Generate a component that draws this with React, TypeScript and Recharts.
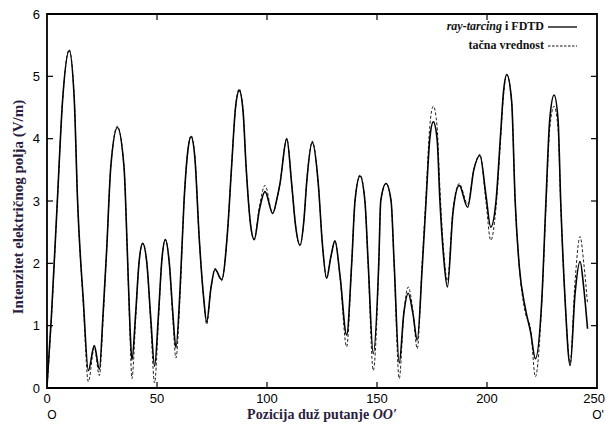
import React from 'react';
import { LineChart, Line, XAxis, YAxis, ReferenceArea, Legend } from 'recharts';

// positions along path OO'
const positions = [
  0, 2, 4.7, 7.1, 10.1, 12.4, 13.9, 16.5, 18.8, 21.5, 23.8, 25.5, 27.1, 29, 32, 35, 36.5, 37.7, 38.6,
  40.3, 41.8, 43.5, 45.4, 47.2, 48.9, 50.7, 52.2, 53.8, 55.6, 57.2, 58.6, 60.5, 62.3, 64, 65.5, 67.2,
  69.2, 71.2, 72.6, 74.5, 76.4, 79.4, 82, 83.9, 85.7, 87.4, 89.1, 90.5, 92.6, 94.2, 96.5, 99.1, 102.6,
  104.6, 105.9, 109, 111.2, 113, 115, 116.8, 118, 120.6, 123.3, 125.2, 127.1, 129, 130.9, 133.2, 136.2,
  138.5, 140, 142.3, 144.5, 146, 148.3, 150.8, 151.7, 154.1, 156.4, 157.8, 160.1, 162.2, 164.2, 166.3,
  168.3, 170.5, 172.3, 174, 175.6, 177.3, 178.6, 180.3, 182, 184.5, 187.4, 191.2, 194, 196.8, 199.5,
  201.7, 204.1, 206.2, 207.5, 209, 211.2, 212.8, 214.7, 217.3, 219.8, 222, 224.9, 226.8, 228.5, 230.5,
  232.3, 233.5, 235.5, 237.8, 240, 242.3, 244, 245.7,
];

// ray-tracing i FDTD (solid)
const rayTracing = [
  0.02, 1.15, 3.0, 4.62, 5.41, 4.62, 3.0, 1.41, 0.28, 0.68, 0.3, 1.2, 2.2, 3.55, 4.18, 3.55, 2.2, 1.0, 0.45,
  1.2, 2.0, 2.32, 2.0, 1.1, 0.35, 1.2, 2.05, 2.38, 2.0, 1.2, 0.65, 1.6, 3.0, 3.8, 4.03, 3.7,
  2.4, 1.45, 1.06, 1.6, 1.9, 1.74, 2.48, 3.55, 4.5, 4.77, 4.45, 3.55, 2.6, 2.38, 2.85, 3.15, 2.8,
  3.05, 3.28, 4.0, 3.28, 2.6, 2.29, 2.7, 3.28, 3.94, 3.28, 2.3, 1.76, 2.1, 2.36, 1.8, 0.85,
  2.0, 3.0, 3.4, 3.0, 2.0, 0.55, 2.0, 3.0, 3.28, 3.0, 2.0, 0.4, 1.2, 1.52, 1.2,
  0.77, 1.9, 3.0, 4.0, 4.27, 4.0, 3.0, 2.1, 1.62, 2.8, 3.25, 2.9, 3.5, 3.73, 3.1,
  2.58, 3.0, 4.08, 4.75, 5.03, 4.6, 3.0, 1.94, 1.3, 0.9, 0.47, 1.41, 3.0, 4.3, 4.7,
  4.3, 3.0, 1.41, 0.36, 1.5, 2.03, 1.6, 0.95,
];

// tačna vrednost (dashed)
const exactValue = [
  0.0, 1.1, 3.0, 4.62, 5.43, 4.65, 3.0, 1.35, 0.1, 0.65, 0.2, 1.1, 2.2, 3.55, 4.2, 3.55, 2.2, 0.9, 0.15,
  1.1, 2.0, 2.32, 2.0, 1.0, 0.08, 1.1, 2.05, 2.38, 2.0, 1.1, 0.48, 1.5, 3.0, 3.8, 4.05, 3.72,
  2.4, 1.45, 1.02, 1.6, 1.92, 1.72, 2.48, 3.55, 4.5, 4.8, 4.45, 3.55, 2.6, 2.38, 2.9, 3.25, 2.8,
  3.05, 3.28, 4.0, 3.28, 2.6, 2.29, 2.7, 3.28, 3.96, 3.28, 2.3, 1.76, 2.1, 2.36, 1.78, 0.66,
  2.0, 3.0, 3.42, 3.0, 1.95, 0.28, 1.95, 3.0, 3.28, 3.0, 1.95, 0.15, 1.2, 1.62, 1.25,
  0.63, 2.0, 3.1, 4.2, 4.52, 4.2, 3.2, 2.2, 1.72, 2.85, 3.28, 2.95, 3.5, 3.75, 3.0,
  2.37, 2.9, 4.0, 4.7, 5.02, 4.6, 3.0, 1.94, 1.22, 0.95, 0.18, 1.35, 2.9, 4.15, 4.52,
  4.15, 2.95, 1.41, 0.4, 1.7, 2.43, 2.0, 1.35,
];

const xTicks = [0, 50, 100, 150, 200, 250];
const yTicks = [0, 1, 2, 3, 4, 5, 6];
const legendItems = [
  { italic: 'ray-tarcing', rest: ' i FDTD', dash: '' },
  { italic: '', rest: 'tačna vrednost', dash: '2.5 1.5' },
];

const data = positions.map((x, i) => ({ x, ray: rayTracing[i], exact: exactValue[i] }));

const W = 606;
const H = 426;
const X_AXIS_H = 30;
const Y_AXIS_W = 40;
const M = { top: 14, right: 9, bottom: 38 - X_AXIS_H, left: 47 - Y_AXIS_W };
const LEFT = M.left + Y_AXIS_W;
const RIGHT = W - M.right;
const TOP = M.top;
const BOTTOM = H - M.bottom - X_AXIS_H;
const TICK = 6;
const TITLE_COLOR = '#2a1d40';

const XTick = (props: any) => {
  const { x, y, payload } = props;
  const last = payload.value === xTicks[xTicks.length - 1];
  const inner = payload.value !== xTicks[0] && !last;
  return (
    <g>
      {inner && <line x1={x} x2={x} y1={BOTTOM} y2={BOTTOM - TICK} stroke="#000" strokeWidth={1.2} />}
      {inner && <line x1={x} x2={x} y1={TOP} y2={TOP + TICK} stroke="#000" strokeWidth={1.2} />}
      <text x={last ? x + 8 : x} y={y} dy="0.71em" textAnchor={last ? 'end' : 'middle'} fontFamily="Liberation Sans, Arial, sans-serif" fontSize={13} fill="#000">
        {payload.value}
      </text>
    </g>
  );
};

const YTick = (props: any) => {
  const { x, y, payload } = props;
  const inner = payload.value !== yTicks[0] && payload.value !== yTicks[yTicks.length - 1];
  return (
    <g>
      {inner && <line x1={LEFT} x2={LEFT + TICK} y1={y} y2={y} stroke="#000" strokeWidth={1.2} />}
      {inner && <line x1={RIGHT} x2={RIGHT - TICK} y1={y} y2={y} stroke="#000" strokeWidth={1.2} />}
      <text x={x} y={y} dy="0.355em" textAnchor="end" fontFamily="Liberation Sans, Arial, sans-serif" fontSize={13} fill="#000">
        {payload.value}
      </text>
    </g>
  );
};

const XLabel = (props: any) => {
  const cx = (LEFT + RIGHT) / 2;
  const ty = BOTTOM + 31;
  return (
    <g>
      <text x={cx} y={ty} textAnchor="middle" fontFamily="Liberation Serif, Times New Roman, serif" fontWeight="bold" fontSize={14} fill={TITLE_COLOR}>
        Pozicija duž putanje <tspan fontStyle="italic">OO′</tspan>
      </text>
      <text x={LEFT + 5} y={ty} textAnchor="middle" fontFamily="Liberation Sans, Arial, sans-serif" fontSize={12} fill="#000">O</text>
      <text x={RIGHT + 1} y={ty} textAnchor="middle" fontFamily="Liberation Sans, Arial, sans-serif" fontSize={12} fill="#000">O'</text>
    </g>
  );
};

const YLabel = (props: any) => {
  const cx = 18;
  const cy = 207;
  return (
    <text x={cx} y={cy} transform={`rotate(-90 ${cx} ${cy})`} textAnchor="middle" dominantBaseline="central" fontFamily="Liberation Serif, Times New Roman, serif" fontWeight="bold" fontSize={15} fill={TITLE_COLOR}>
      Intenzitet električnog polja (V/m)
    </text>
  );
};

const LegendContent = () => (
  <div style={{ fontFamily: 'Liberation Serif, Times New Roman, serif', fontWeight: 'bold', fontSize: 12, color: '#111' }}>
    {legendItems.map((it, i) => (
      <div key={i} style={{ display: 'flex', justifyContent: 'flex-end', alignItems: 'center', height: 19 }}>
        <span>
          {it.italic && <i>{it.italic}</i>}
          {it.rest}
        </span>
        <svg width={32} height={10} style={{ marginLeft: 4 }}>
          <line x1={0} x2={29} y1={5} y2={5} stroke="#111" strokeWidth={it.dash ? 1 : 1.4} strokeDasharray={it.dash || undefined} />
        </svg>
      </div>
    ))}
  </div>
);

export default function App() {
  return (
    <div style={{ position: 'absolute', left: 0, top: 0, width: W, height: H, background: '#fff' }}>
      <LineChart width={W} height={H} data={data} margin={M}>
        <XAxis
          dataKey="x"
          type="number"
          domain={[0, 250]}
          ticks={xTicks}
          allowDataOverflow
          axisLine={false}
          tickLine={false}
          tickSize={0}
          tickMargin={6}
          height={X_AXIS_H}
          tick={(p: any) => <XTick {...p} />}
          interval={0}
          label={(p: any) => <XLabel {...p} />}
        />
        <YAxis
          type="number"
          domain={[0, 6]}
          ticks={yTicks}
          allowDataOverflow
          axisLine={false}
          tickLine={false}
          tickSize={0}
          tickMargin={7}
          width={Y_AXIS_W}
          tick={(p: any) => <YTick {...p} />}
          interval={0}
          label={(p: any) => <YLabel {...p} />}
        />
        <ReferenceArea x1={0} x2={250} y1={0} y2={6} fill="none" stroke="#000" strokeWidth={1.8} ifOverflow="visible" />
        <Line type="monotone" dataKey="exact" stroke="#222" strokeWidth={1} strokeDasharray="3 2" dot={false} isAnimationActive={false} />
        <Line type="monotone" dataKey="ray" stroke="#000" strokeWidth={1.6} dot={false} isAnimationActive={false} />
        <Legend
          layout="vertical"
          align="center"
          verticalAlign="middle"
          content={<LegendContent />}
          wrapperStyle={{ position: 'absolute', left: 400, top: 17, width: 180 }}
        />
      </LineChart>
    </div>
  );
}
